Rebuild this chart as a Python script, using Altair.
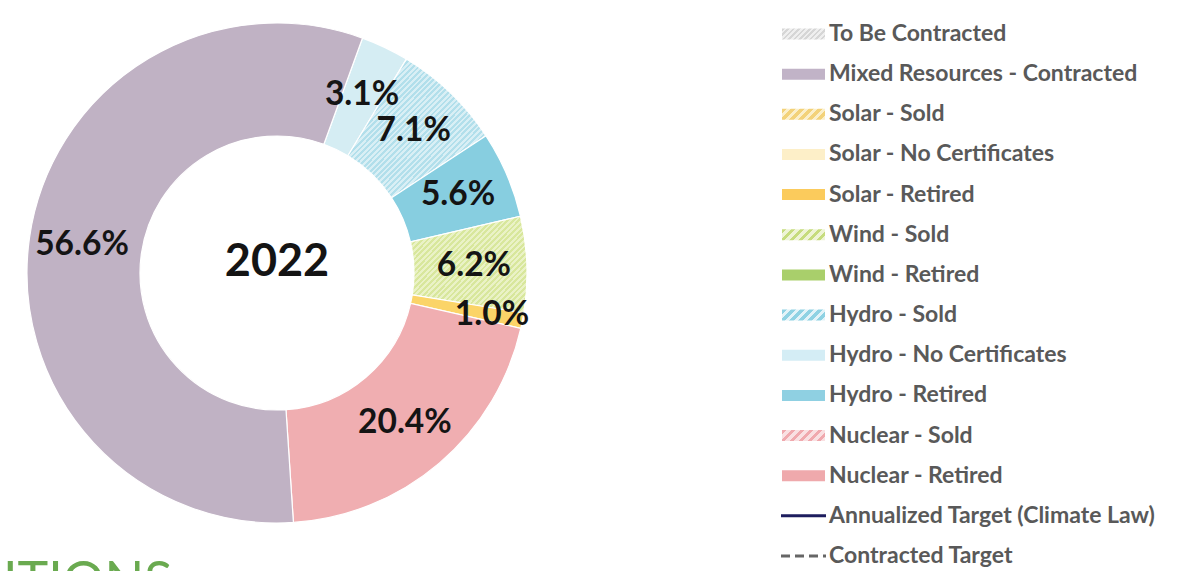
import math
import altair as alt
import pandas as pd

# ---------------- data ----------------
segments = ["Hydro - No Certificates", "Hydro - Sold", "Hydro - Retired",
            "Wind - Sold", "Solar - Retired", "Nuclear - Retired",
            "Mixed Resources - Contracted"]
shares = [3.1, 7.1, 5.6, 6.2, 1.0, 20.4, 56.6]
center_label = ["2022"]

legend_items = ["To Be Contracted", "Mixed Resources - Contracted", "Solar - Sold",
                "Solar - No Certificates", "Solar - Retired", "Wind - Sold",
                "Wind - Retired", "Hydro - Sold", "Hydro - No Certificates",
                "Hydro - Retired", "Nuclear - Sold", "Nuclear - Retired",
                "Annualized Target (Climate Law)", "Contracted Target"]
line_items = ["Annualized Target (Climate Law)", "Contracted Target"]

page_word = ["ITIONS"]

# ---------------- styling ----------------
W, H = 1185, 571
CX, CY = 277, 273
R_OUT, R_IN = 250, 137
START = math.radians(20)
FONT = "Lato"


def hatch(c1, c2, n, w, h):
    """Diagonal '/' stripes as a linear gradient in bounding-box units."""
    a, b = 1.0 / h, 1.0 / w
    k = (a + b) / (a * a + b * b)
    stops = []
    for i in range(n):
        stops += [
            {"offset": i / n, "color": c1},
            {"offset": (i + 0.5) / n, "color": c1},
            {"offset": (i + 0.5) / n, "color": c2},
            {"offset": (i + 1) / n, "color": c2},
        ]
    return {"gradient": "linear", "x1": 0, "y1": 0, "x2": k * a, "y2": k * b,
            "stops": stops}


arc_fill = {
    "Hydro - No Certificates": "#d5edf3",
    "Hydro - Sold": hatch("#b2dfeb", "#d9eff5", 50, 140, 139),
    "Hydro - Retired": "#87cee0",
    "Wind - Sold": hatch("#d8e79c", "#eaf2c6", 38, 117, 95),
    "Solar - Retired": "#fbd468",
    "Nuclear - Retired": "#f0aeb1",
    "Mixed Resources - Contracted": "#c0b2c4",
}

SW, SH = 43, 11
legend_fill = {
    "To Be Contracted": hatch("#d6d6d6", "#efefef", 10, SW, SH),
    "Mixed Resources - Contracted": "#c1b3c7",
    "Solar - Sold": hatch("#f3d27a", "#fbefca", 6, SW, SH),
    "Solar - No Certificates": "#fdefc8",
    "Solar - Retired": "#fbcb5c",
    "Wind - Sold": hatch("#c6dc7e", "#eef4d6", 6, SW, SH),
    "Wind - Retired": "#a9cf6b",
    "Hydro - Sold": hatch("#8fd2e3", "#e2f3f8", 6, SW, SH),
    "Hydro - No Certificates": "#d4edf5",
    "Hydro - Retired": "#8fd0e2",
    "Nuclear - Sold": hatch("#f0a9ae", "#f9e0e2", 6, SW, SH),
    "Nuclear - Retired": "#efa9ac",
}
line_style = {
    "Annualized Target (Climate Law)": {"color": "#1d1d5e", "strokeWidth": 3},
    "Contracted Target": {"color": "#666666", "strokeWidth": 3, "strokeDash": [9, 5]},
}

# ---------------- pie ----------------
pie_df = pd.DataFrame({"cat": segments, "value": shares, "order": list(range(len(segments)))})
theta_scale = alt.Scale(domain=[0, 100], range=[START, START + 2 * math.pi])

base = (
    alt.Chart(pie_df)
    .transform_window(cum="sum(value)", sort=[alt.SortField("order")])
    .transform_calculate(start="datum.cum - datum.value",
                         mid="datum.cum - datum.value / 2",
                         label="format(datum.value, '.1f') + '%'")
)

layers = []
for name in segments:
    layers.append(
        base.transform_filter(alt.datum.cat == name)
        .mark_arc(innerRadius=R_IN, outerRadius=R_OUT, fill=arc_fill[name],
                  stroke="white", strokeWidth=1.2)
        .encode(theta=alt.Theta("start:Q", stack=None, scale=theta_scale),
                theta2="cum:Q",
                x=alt.value(CX), y=alt.value(CY))
    )

for cond, rad in (("datum.value >= 2", 197), ("datum.value < 2", 219)):
    layers.append(
        base.transform_filter(cond)
        .mark_text(font=FONT, fontWeight="bold", fontSize=33.5, color="#141414",
                   align="center", baseline="middle")
        .encode(theta=alt.Theta("mid:Q", stack=None, scale=theta_scale),
                radius=alt.value(rad),
                x=alt.value(CX), y=alt.value(CY),
                text="label:N")
    )

center = alt.Chart(pd.DataFrame({"t": center_label})).mark_text(
    font=FONT, fontWeight="bold", fontSize=45, color="#141414",
    align="center", baseline="middle").encode(
    x=alt.value(CX), y=alt.value(262), text="t:N")
layers.append(center)

# ---------------- legend ----------------
leg_df = pd.DataFrame({"item": legend_items})
y_leg = alt.Y("item:N", sort=legend_items,
              scale=alt.Scale(type="point", domain=legend_items, range=[34, 556],
                              padding=0),
              axis=None)
swatch_shape = "M-1,-{0:.4f}H1V{0:.4f}H-1Z".format(SH / SW)

for name, fill in legend_fill.items():
    layers.append(
        alt.Chart(leg_df).transform_filter(alt.datum.item == name)
        .mark_point(shape=swatch_shape, size=SW * SW, filled=True, fill=fill,
                    strokeWidth=0, opacity=1)
        .encode(y=y_leg, x=alt.value(782 + SW / 2))
    )

for name in line_items:
    layers.append(
        alt.Chart(leg_df).transform_filter(alt.datum.item == name)
        .mark_rule(strokeCap="butt", **line_style[name])
        .encode(y=y_leg, x=alt.value(781), x2=alt.value(826))
    )

layers.append(
    alt.Chart(leg_df).mark_text(font=FONT, fontWeight="bold", fontSize=23,
                                color="#595959", align="left", baseline="middle")
    .encode(y=y_leg, x=alt.value(829), text="item:N")
)

# ---------------- cut-off page heading ----------------
layers.append(
    alt.Chart(pd.DataFrame({"t": page_word})).mark_text(
        font=FONT, fontWeight="normal", fontSize=52, color="#6aaa50",
        align="left", baseline="alphabetic").encode(
        x=alt.value(3), y=alt.value(599), text="t:N")
)

chart = (
    alt.layer(*layers)
    .properties(width=W, height=H, padding=0,
                autosize=alt.AutoSizeParams(type="none"),
                background="white")
    .configure_view(strokeWidth=0)
)

chart.save("out.html", embed_options={"renderer": "svg", "actions": False})
